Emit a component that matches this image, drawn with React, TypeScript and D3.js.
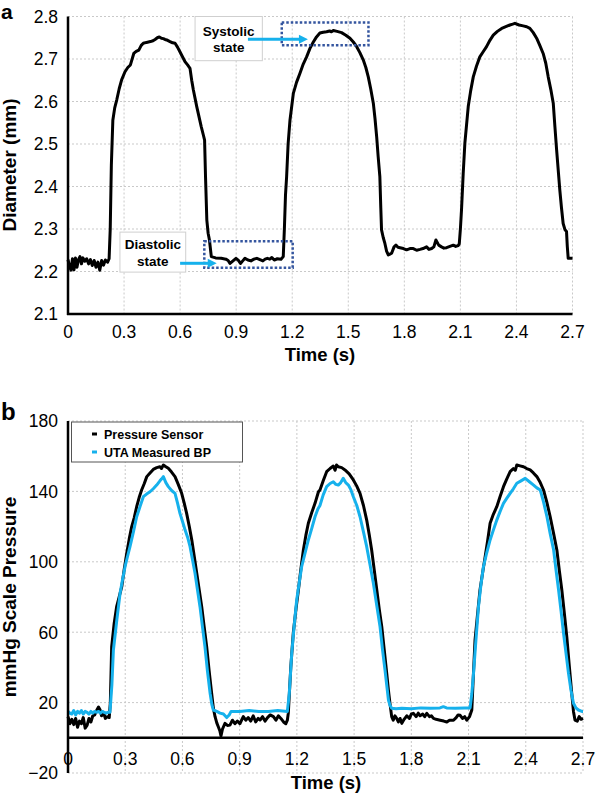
import React from "react";
import * as d3 from "d3";

// vessel diameter over time, [seconds, mm]
const diameterTrace: [number, number][] = [
  [0.0, 2.228], [0.008, 2.212], [0.016, 2.203], [0.024, 2.23], [0.032, 2.204], [0.04, 2.232],
  [0.048, 2.21], [0.056, 2.228], [0.064, 2.235], [0.072, 2.218], [0.08, 2.232], [0.09, 2.224],
  [0.1, 2.23], [0.11, 2.218], [0.12, 2.228], [0.13, 2.214], [0.14, 2.226], [0.15, 2.21],
  [0.16, 2.222], [0.17, 2.203], [0.18, 2.226], [0.19, 2.215], [0.2, 2.227], [0.212, 2.222],
  [0.22, 2.23], [0.226, 2.3], [0.232, 2.45], [0.24, 2.556], [0.25, 2.585], [0.261, 2.604],
  [0.274, 2.63], [0.287, 2.651], [0.305, 2.67], [0.32, 2.68], [0.334, 2.686], [0.352, 2.713],
  [0.365, 2.718], [0.379, 2.721], [0.392, 2.732], [0.403, 2.737], [0.42, 2.739], [0.441, 2.741],
  [0.455, 2.743], [0.466, 2.746], [0.478, 2.75], [0.489, 2.752], [0.5, 2.749], [0.51, 2.748],
  [0.519, 2.746], [0.533, 2.744], [0.546, 2.741], [0.56, 2.738], [0.573, 2.737], [0.586, 2.728],
  [0.599, 2.717], [0.612, 2.706], [0.626, 2.694], [0.64, 2.686], [0.653, 2.678], [0.662, 2.65],
  [0.671, 2.627], [0.689, 2.588], [0.713, 2.541], [0.725, 2.52], [0.731, 2.509], [0.736, 2.423],
  [0.743, 2.321], [0.75, 2.29], [0.757, 2.274], [0.767, 2.235], [0.79, 2.232], [0.82, 2.231],
  [0.845, 2.229], [0.857, 2.226], [0.867, 2.219], [0.88, 2.224], [0.899, 2.231], [0.912, 2.226],
  [0.923, 2.219], [0.935, 2.225], [0.947, 2.231], [0.963, 2.227], [0.979, 2.225], [0.995, 2.229],
  [1.011, 2.231], [1.027, 2.228], [1.043, 2.225], [1.055, 2.229], [1.067, 2.231], [1.08, 2.229],
  [1.091, 2.233], [1.104, 2.227], [1.12, 2.23], [1.14, 2.229], [1.152, 2.235], [1.158, 2.3],
  [1.164, 2.38], [1.17, 2.423], [1.178, 2.5], [1.188, 2.556], [1.206, 2.619], [1.223, 2.645],
  [1.241, 2.666], [1.259, 2.688], [1.277, 2.705], [1.295, 2.725], [1.313, 2.74], [1.33, 2.752],
  [1.348, 2.761], [1.366, 2.763], [1.384, 2.764], [1.4, 2.766], [1.41, 2.764], [1.42, 2.767],
  [1.44, 2.765], [1.464, 2.762], [1.487, 2.756], [1.509, 2.749], [1.527, 2.74], [1.545, 2.729],
  [1.562, 2.715], [1.58, 2.698], [1.594, 2.68], [1.607, 2.658], [1.62, 2.63], [1.634, 2.596],
  [1.643, 2.56], [1.652, 2.517], [1.66, 2.47], [1.669, 2.423], [1.674, 2.35], [1.678, 2.298],
  [1.687, 2.28], [1.696, 2.266], [1.705, 2.248], [1.714, 2.239], [1.723, 2.241], [1.732, 2.243],
  [1.745, 2.258], [1.755, 2.262], [1.766, 2.257], [1.777, 2.256], [1.795, 2.254], [1.812, 2.251],
  [1.83, 2.254], [1.848, 2.254], [1.866, 2.25], [1.884, 2.252], [1.9, 2.254], [1.919, 2.258],
  [1.932, 2.252], [1.946, 2.254], [1.958, 2.258], [1.969, 2.274], [1.984, 2.262], [1.999, 2.258],
  [2.012, 2.255], [2.026, 2.256], [2.044, 2.259], [2.062, 2.262], [2.075, 2.259], [2.088, 2.261],
  [2.094, 2.265], [2.1, 2.3], [2.106, 2.345], [2.115, 2.43], [2.124, 2.502], [2.142, 2.588],
  [2.155, 2.625], [2.169, 2.658], [2.186, 2.683], [2.204, 2.705], [2.222, 2.717], [2.24, 2.729],
  [2.258, 2.744], [2.276, 2.756], [2.298, 2.765], [2.321, 2.772], [2.343, 2.776], [2.365, 2.78],
  [2.38, 2.782], [2.392, 2.784], [2.414, 2.78], [2.436, 2.778], [2.455, 2.776], [2.472, 2.772],
  [2.49, 2.762], [2.508, 2.749], [2.525, 2.732], [2.543, 2.713], [2.557, 2.69], [2.57, 2.658],
  [2.584, 2.628], [2.597, 2.596], [2.606, 2.54], [2.615, 2.486], [2.632, 2.392], [2.641, 2.35],
  [2.65, 2.313], [2.66, 2.298], [2.668, 2.294], [2.672, 2.26], [2.677, 2.231], [2.7, 2.231],
];

// reference pressure sensor, [seconds, mmHg]
const sensorTrace: [number, number][] = [
  [0.0, 12], [0.01, 8], [0.02, 10.5], [0.03, 7.5], [0.04, 11], [0.05, 6], [0.06, 9.5], [0.07, 8],
  [0.08, 11.5], [0.09, 5.5], [0.1, 7], [0.11, 11], [0.12, 9], [0.13, 12.5], [0.14, 13], [0.15, 15.5],
  [0.16, 17.5], [0.168, 16], [0.176, 12.5], [0.186, 14.5], [0.196, 11], [0.206, 12], [0.216, 11.5],
  [0.222, 20], [0.229, 51.8], [0.242, 65], [0.255, 74.5], [0.268, 80], [0.282, 85.9], [0.295, 96],
  [0.308, 104.8], [0.321, 113], [0.334, 120], [0.347, 125], [0.36, 131.3], [0.373, 136.5],
  [0.386, 140.8], [0.4, 144.5], [0.413, 148.4], [0.43, 150.5], [0.447, 152.5], [0.465, 153.5],
  [0.482, 154], [0.49, 153], [0.5, 155], [0.513, 154], [0.526, 153.1], [0.543, 151], [0.561, 148.4],
  [0.578, 144], [0.596, 138.9], [0.609, 133.5], [0.622, 127.5], [0.636, 120], [0.649, 112.4],
  [0.662, 103], [0.675, 93.5], [0.688, 84], [0.701, 74.5], [0.714, 63], [0.727, 51.8], [0.74, 38],
  [0.753, 25.3], [0.762, 17], [0.771, 12], [0.78, 8.5], [0.788, 6.3], [0.796, 4], [0.802, 1],
  [0.81, 5], [0.823, 8.2], [0.836, 7], [0.849, 7.2], [0.862, 10], [0.875, 8], [0.888, 9.5],
  [0.901, 8], [0.919, 12], [0.932, 10], [0.945, 11.5], [0.958, 9.5], [0.971, 12.5], [0.984, 9],
  [0.997, 11], [1.007, 10.1], [1.02, 12], [1.033, 9.5], [1.046, 11.5], [1.06, 13], [1.077, 12],
  [1.09, 10], [1.103, 12.5], [1.116, 11], [1.13, 9], [1.142, 8], [1.15, 10], [1.155, 14],
  [1.168, 40], [1.181, 59.4], [1.195, 73], [1.208, 84], [1.221, 96], [1.234, 106.7], [1.247, 115],
  [1.26, 121.9], [1.278, 128], [1.295, 133.2], [1.313, 139.8], [1.321, 140.8], [1.338, 146],
  [1.356, 151.2], [1.374, 153], [1.391, 154.4], [1.4, 152], [1.408, 155], [1.417, 154],
  [1.435, 153.5], [1.452, 152.2], [1.474, 150], [1.496, 146.5], [1.514, 143], [1.531, 138.9],
  [1.549, 132], [1.566, 123.7], [1.58, 115], [1.592, 106.7], [1.606, 95], [1.619, 84], [1.632, 73],
  [1.645, 63.1], [1.658, 50], [1.671, 36.6], [1.68, 27], [1.688, 19.6], [1.697, 12], [1.705, 10],
  [1.714, 12.5], [1.723, 11], [1.732, 9], [1.741, 11], [1.75, 8.2], [1.762, 10.5], [1.776, 12.5],
  [1.79, 11], [1.8, 13.5], [1.811, 13.9], [1.825, 12], [1.836, 14], [1.846, 12.5], [1.86, 13.5],
  [1.87, 12], [1.881, 13.9], [1.895, 12], [1.905, 12.5], [1.916, 11], [1.93, 10.5], [1.951, 10],
  [1.97, 9.5], [1.986, 9], [2.0, 10], [2.021, 10], [2.035, 11.5], [2.045, 13], [2.056, 12.8],
  [2.068, 11], [2.08, 12], [2.091, 10], [2.105, 12], [2.117, 15.8], [2.125, 35], [2.134, 55.6],
  [2.147, 70], [2.16, 84], [2.174, 94], [2.187, 102.9], [2.2, 112], [2.213, 121.9], [2.23, 127],
  [2.248, 131.3], [2.265, 137], [2.283, 142.7], [2.3, 147], [2.318, 151.2], [2.335, 153],
  [2.345, 152], [2.353, 155], [2.37, 154.5], [2.388, 154], [2.405, 153], [2.423, 152.2],
  [2.44, 150.5], [2.458, 148.4], [2.476, 145], [2.493, 140.8], [2.51, 134], [2.528, 125.6],
  [2.546, 116], [2.563, 106.7], [2.576, 95], [2.589, 84], [2.602, 71], [2.615, 57.5], [2.628, 41],
  [2.641, 25.3], [2.65, 15], [2.658, 10.1], [2.67, 9.5], [2.68, 12], [2.69, 10.5], [2.7, 11],
];

// ultrasound-derived blood pressure, [seconds, mmHg]
const utaTrace: [number, number][] = [
  [0.0, 15], [0.01, 14], [0.02, 13.5], [0.03, 15.5], [0.04, 13], [0.05, 15], [0.06, 14],
  [0.07, 15.5], [0.08, 13.5], [0.09, 15], [0.1, 14.5], [0.11, 13.5], [0.12, 15], [0.13, 14],
  [0.14, 15], [0.15, 14.5], [0.16, 15], [0.17, 14], [0.18, 15], [0.19, 14.5], [0.2, 14],
  [0.21, 14.5], [0.22, 14.5], [0.23, 30], [0.238, 49.9], [0.256, 67], [0.273, 82.1], [0.286, 90],
  [0.299, 97.2], [0.312, 103], [0.325, 108.6], [0.343, 117], [0.36, 125.6], [0.378, 131.5],
  [0.395, 137], [0.412, 138.5], [0.43, 139.8], [0.447, 141.5], [0.465, 143.6], [0.482, 146],
  [0.49, 147], [0.5, 148.4], [0.513, 145], [0.526, 142.7], [0.543, 140.5], [0.561, 138.9],
  [0.574, 133.5], [0.587, 127.5], [0.6, 123], [0.614, 118], [0.627, 114], [0.64, 108.6],
  [0.653, 101], [0.666, 93.5], [0.679, 84], [0.692, 74.5], [0.705, 63], [0.718, 51.8], [0.731, 38],
  [0.745, 25.3], [0.754, 19], [0.762, 15.8], [0.78, 15], [0.797, 14], [0.815, 13.5], [0.832, 11.5],
  [0.845, 13], [0.855, 15], [0.867, 15], [0.9, 15], [0.95, 15.5], [1.0, 15], [1.05, 15],
  [1.1, 15.5], [1.15, 15], [1.16, 25], [1.173, 48], [1.186, 64], [1.199, 78.3], [1.212, 88],
  [1.225, 97.2], [1.243, 105], [1.26, 112.4], [1.278, 119], [1.295, 125.6], [1.31, 130],
  [1.321, 132], [1.338, 138], [1.356, 142.7], [1.374, 144.5], [1.391, 145.5], [1.404, 144],
  [1.417, 143.6], [1.43, 145], [1.443, 147.4], [1.456, 145], [1.47, 143.6], [1.483, 141],
  [1.496, 137], [1.514, 132], [1.531, 125.6], [1.549, 117], [1.566, 108.6], [1.584, 98],
  [1.601, 87.8], [1.619, 75], [1.636, 63.1], [1.649, 50], [1.662, 38.5], [1.671, 30], [1.68, 21.5],
  [1.688, 18.5], [1.697, 16.8], [1.72, 16.5], [1.75, 16.8], [1.8, 16.5], [1.85, 17], [1.9, 16.8],
  [1.95, 17], [1.968, 17.7], [1.985, 17], [2.03, 16.8], [2.08, 17], [2.108, 17], [2.117, 25],
  [2.126, 36.6], [2.139, 56], [2.152, 74.5], [2.165, 87], [2.178, 97.2], [2.195, 105],
  [2.213, 112.4], [2.23, 118], [2.248, 123.7], [2.265, 128.5], [2.283, 133.2], [2.3, 136],
  [2.318, 138.9], [2.335, 141.5], [2.353, 144.6], [2.375, 146], [2.397, 147.4], [2.419, 145.5],
  [2.441, 143.6], [2.458, 142], [2.476, 140.8], [2.493, 134], [2.511, 125.6], [2.528, 116],
  [2.546, 106.7], [2.559, 95], [2.572, 84], [2.585, 72], [2.598, 59.4], [2.611, 48], [2.624, 36.6],
  [2.637, 27], [2.65, 19.6], [2.663, 17], [2.676, 15.8], [2.694, 15], [2.7, 15],
];

const timeTicks = [0, 0.3, 0.6, 0.9, 1.2, 1.5, 1.8, 2.1, 2.4, 2.7];
const diameterTicks = [2.1, 2.2, 2.3, 2.4, 2.5, 2.6, 2.7, 2.8];
const pressureTicks = [-20, 20, 60, 100, 140, 180];

// annotation boxes in data units: [t0, t1, d0, d1]
const systolicWindow = [1.144, 1.608, 2.7325, 2.786];
const diastolicWindow = [0.7295, 1.2025, 2.2087, 2.2713];

const FONT = "'Liberation Sans', Arial, Helvetica, sans-serif";
const CYAN = "#16b1ec";
const NAVY = "#34559f";
const GRID = "#c9c9c9";

const fmtTime = (t: number) => (t === 0 ? "0" : t.toFixed(1));

export default function App() {
  // panel a
  const xa = d3.scaleLinear().domain([0, 2.7]).range([68, 572.5]);
  const ya = d3.scaleLinear().domain([2.1, 2.8]).range([314, 16.5]);
  const lineA = d3
    .line<[number, number]>()
    .x((d) => xa(d[0]))
    .y((d) => ya(d[1]));

  // panel b
  const xb = d3.scaleLinear().domain([0, 2.7]).range([68, 583]);
  const yb = d3.scaleLinear().domain([-20, 180]).range([773, 421]);
  const lineB = d3
    .line<[number, number]>()
    .x((d) => xb(d[0]))
    .y((d) => yb(d[1]));

  const arrow = (x1: number, x2: number, y: number) => (
    <g>
      <line x1={x1} x2={x2 - 7} y1={y} y2={y} stroke={CYAN} strokeWidth={3} />
      <path d={`M${x2},${y} L${x2 - 9},${y - 4.5} L${x2 - 9},${y + 4.5} Z`} fill={CYAN} />
    </g>
  );

  const labelBox = (t0: number, t1: number, d0: number, d1: number, lines: string[]) => {
    const x0 = xa(t0);
    const x1 = xa(t1);
    const top = ya(d1);
    const bot = ya(d0);
    const cx = (x0 + x1) / 2;
    const cy = (top + bot) / 2;
    return (
      <g>
        <rect x={x0} y={top} width={x1 - x0} height={bot - top} fill="#fff" stroke="#cfcfcf" strokeWidth={1} />
        <text x={cx} y={cy - 3} textAnchor="middle" fontWeight="bold" fontSize={13.5}>
          {lines[0]}
        </text>
        <text x={cx} y={cy + 13.5} textAnchor="middle" fontWeight="bold" fontSize={13.5}>
          {lines[1]}
        </text>
      </g>
    );
  };

  const windowRect = (w: number[]) => (
    <rect
      x={xa(w[0])}
      y={ya(w[3])}
      width={xa(w[1]) - xa(w[0])}
      height={ya(w[2]) - ya(w[3])}
      fill="none"
      stroke={NAVY}
      strokeWidth={2.5}
      strokeDasharray="2.5,2"
    />
  );

  return (
    <svg
      width={598}
      height={795}
      style={{ position: "absolute", left: 0, top: 0, background: "#fff" }}
      fontFamily={FONT}
    >
      {/* ---------- panel a ---------- */}
      <g>
        {diameterTicks.slice(1).map((d) => (
          <line key={d} x1={xa(0)} x2={xa(2.7)} y1={ya(d)} y2={ya(d)} stroke={GRID} strokeDasharray="2,2" />
        ))}
        {timeTicks.slice(1).map((t) => (
          <line key={t} x1={xa(t)} x2={xa(t)} y1={ya(2.8)} y2={ya(2.1)} stroke={GRID} strokeDasharray="2,2" />
        ))}
        <path d={lineA(diameterTrace) ?? ""} fill="none" stroke="#000" strokeWidth={3} strokeLinejoin="round" />
        <line x1={xa(0)} x2={xa(0)} y1={ya(2.8)} y2={ya(2.1) + 1} stroke="#000" strokeWidth={2.5} />
        <line x1={xa(0) - 1} x2={xa(2.7)} y1={ya(2.1)} y2={ya(2.1)} stroke="#000" strokeWidth={2.5} />
        {diameterTicks.map((d) => (
          <text key={d} x={58} y={ya(d)} dy="0.36em" textAnchor="end" fontSize={17.5}>
            {d.toFixed(1)}
          </text>
        ))}
        {timeTicks.map((t) => (
          <text key={t} x={xa(t)} y={337.5} textAnchor="middle" fontSize={17.5}>
            {fmtTime(t)}
          </text>
        ))}
        <text x={320} y={361} textAnchor="middle" fontWeight="bold" fontSize={18.5}>
          Time (s)
        </text>
        <text transform="translate(16,165) rotate(-90)" textAnchor="middle" fontWeight="bold" fontSize={19}>
          Diameter (mm)
        </text>
        <text x={1} y={19} fontWeight="bold" fontSize={21}>
          a
        </text>

        {windowRect(systolicWindow)}
        {windowRect(diastolicWindow)}
        {labelBox(0.68, 1.04, 2.696, 2.8, ["Systolic", "state"])}
        {arrow(xa(0.963), xa(1.284), ya(2.7465))}
        {labelBox(0.278, 0.63, 2.1986, 2.2927, ["Diastolic", "state"])}
        {arrow(xa(0.6), xa(0.796), ya(2.2193))}
      </g>

      {/* ---------- panel b ---------- */}
      <g>
        {pressureTicks.map((v) => (
          <line key={v} x1={xb(0)} x2={xb(2.7)} y1={yb(v)} y2={yb(v)} stroke={GRID} strokeDasharray="2,2" />
        ))}
        {timeTicks.slice(1).map((t) => (
          <line key={t} x1={xb(t)} x2={xb(t)} y1={yb(180)} y2={yb(-20)} stroke={GRID} strokeDasharray="2,2" />
        ))}
        <line x1={xb(0)} x2={xb(2.7)} y1={yb(0)} y2={yb(0)} stroke="#000" strokeWidth={2.5} />
        <path d={lineB(sensorTrace) ?? ""} fill="none" stroke="#000" strokeWidth={3} strokeLinejoin="round" />
        <path d={lineB(utaTrace) ?? ""} fill="none" stroke={CYAN} strokeWidth={3} strokeLinejoin="round" />
        <line x1={xb(0)} x2={xb(0)} y1={yb(180)} y2={yb(-20)} stroke="#000" strokeWidth={2.5} />
        {pressureTicks.map((v) => (
          <text key={v} x={58} y={yb(v)} dy="0.36em" textAnchor="end" fontSize={17.5}>
            {v < 0 ? `\u2212${Math.abs(v)}` : v}
          </text>
        ))}
        {timeTicks.map((t) => (
          <text key={t} x={xb(t)} y={764.5} textAnchor="middle" fontSize={17.5}>
            {fmtTime(t)}
          </text>
        ))}
        <text x={326} y={789} textAnchor="middle" fontWeight="bold" fontSize={18.5}>
          Time (s)
        </text>
        <text transform="translate(16,597) rotate(-90)" textAnchor="middle" fontWeight="bold" fontSize={19}>
          mmHg Scale Pressure
        </text>
        <text x={1} y={420} fontWeight="bold" fontSize={24}>
          b
        </text>

        {/* legend */}
        <rect x={71.5} y={422} width={171} height={40} fill="#fff" stroke="#555" strokeWidth={1} />
        <line x1={92} x2={97} y1={434} y2={434} stroke="#000" strokeWidth={3} />
        <text x={104} y={438.5} fontWeight="bold" fontSize={12.5}>
          Pressure Sensor
        </text>
        <line x1={92} x2={97} y1={452} y2={452} stroke={CYAN} strokeWidth={3} />
        <text x={104} y={456.5} fontWeight="bold" fontSize={12.5}>
          UTA Measured BP
        </text>
      </g>
    </svg>
  );
}
